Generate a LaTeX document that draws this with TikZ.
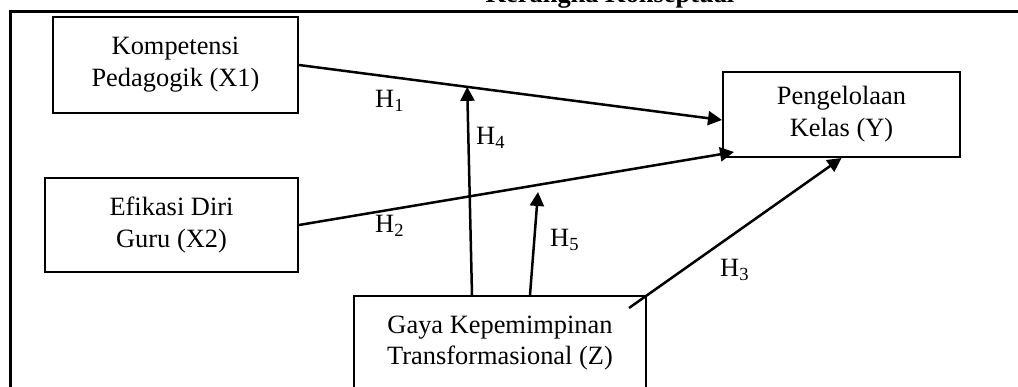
\documentclass[tikz,border=0pt]{standalone}
\usepackage{fontspec}
\setmainfont{Liberation Serif}
\usetikzlibrary{arrows.meta,calc}
% hypothesis label with a lowered index
\newcommand{\hsub}[1]{H\raisebox{-4pt}{\fontsize{18.5}{20}\selectfont #1}}
\begin{document}
\begin{tikzpicture}[x=1pt,y=-1pt,
  every node/.style={font=\fontsize{26.4}{32}\selectfont},
  varbox/.style={draw, line width=2pt, align=center, inner sep=0pt},
  link/.style={line width=2.5pt, -{Triangle[length=14pt,width=14pt]}},
  hyplabel/.style={anchor=base west, inner sep=0pt}]
\useasboundingbox (0,0) rectangle (1018,387);
\clip (0,0) rectangle (1018,387);
% outer frame
\draw[line width=3pt] (10.3,11.7) rectangle (1040,430);
% title
\node[anchor=base, inner sep=0pt, font=\fontsize{26.4}{32}\selectfont\bfseries] (title) at (610,3) {Kerangka Konseptual};
% variables
\node[varbox, minimum width=245pt, minimum height=96pt] (x1) at (175.5,65) {Kompetensi\\Pedagogik (X1)};
\node[varbox, minimum width=253pt, minimum height=94pt] (x2) at (171.5,225) {Efikasi Diri\\Guru (X2)};
\node[varbox, minimum width=237pt, minimum height=85pt] (y) at (841.5,114.5) {Pengelolaan\\Kelas (Y)};
\node[varbox, minimum width=292pt, anchor=north] (z) at (500,295)
  {\rule{0pt}{37pt}Gaya Kepemimpinan\\Transformasional (Z)\rule[-45pt]{0pt}{0pt}};
% connector end points
\coordinate (h1tip) at ($(y.west)+(0,5.5)$);
\coordinate (h2tip) at ($(y.south west)+(12,-6)$);
\coordinate (h3start) at ($(z.north east)+(-18,13)$);
\coordinate (h4start) at ($(z.north west)+(119,0)$);
\coordinate (h4tip) at ($(x1.east)!0.3976!(h1tip)$);
\coordinate (h5start) at ($(z.north west)+(177,0)$);
\coordinate (h5tip) at ($(z.north west)+(185,-103)$);
% paths
\draw[link] (x1.east) -- (h1tip);
\draw[link] (x2.east) -- (h2tip);
\draw[link] (h3start) -- (y.south);
\draw[link] (h4start) -- (h4tip);
\draw[link] (h5start) -- (h5tip);
% labels
\node[hyplabel] (l1) at (375,108) {\hsub{1}};
\node[hyplabel] (l4) at (476,145) {\hsub{4}};
\node[hyplabel] (l2) at (375,233) {\hsub{2}};
\node[hyplabel] (l5) at (550,247) {\hsub{5}};
\node[hyplabel] (l3) at (720,277) {\hsub{3}};
\end{tikzpicture}
\end{document}
